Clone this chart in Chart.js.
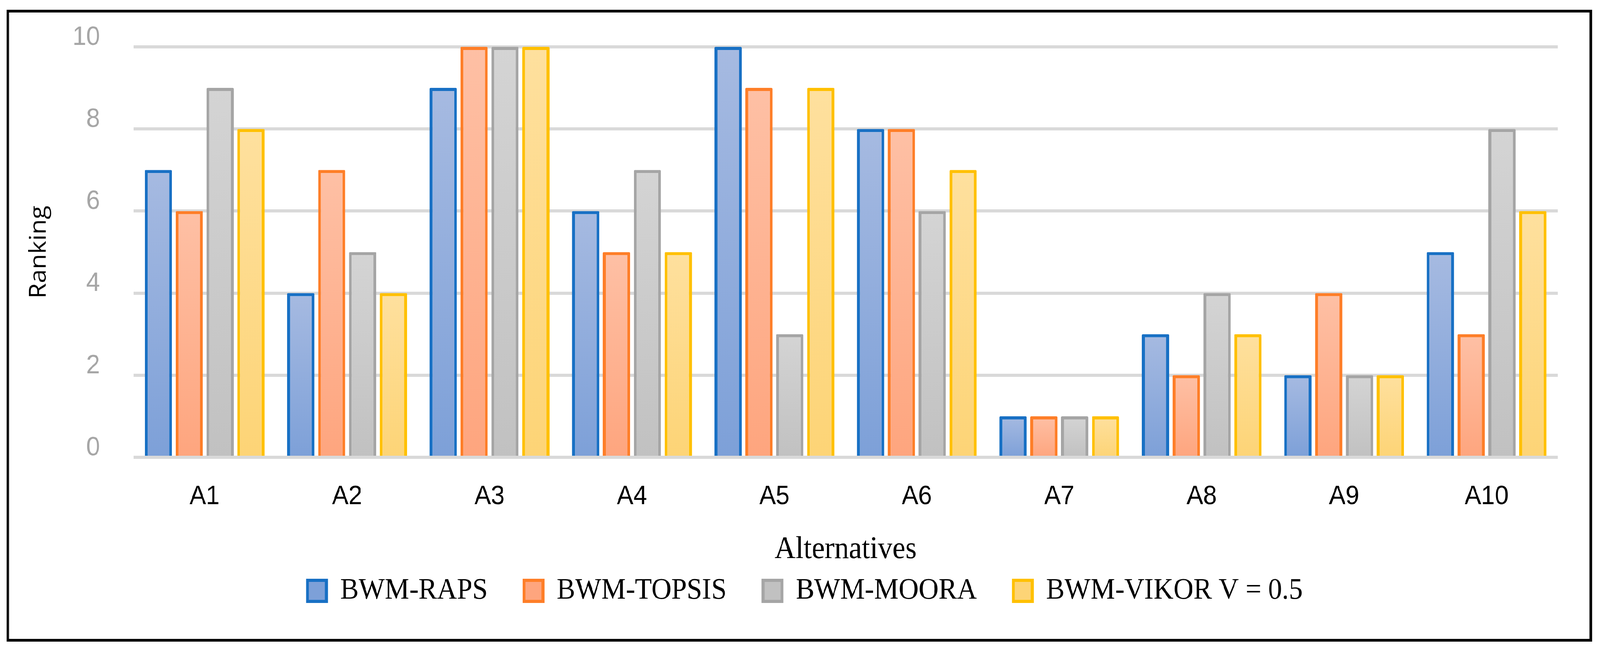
<!DOCTYPE html>
<html>
<head>
<meta charset="utf-8">
<title>Ranking of alternatives</title>
<script src="https://cdn.jsdelivr.net/npm/chart.js@4.4.1/dist/chart.umd.min.js"></script>
<style>
  html, body { margin: 0; padding: 0; background: #fff; overflow: hidden; }
  #wrap { position: relative; width: 4400px; height: 1667px; transform-origin: 0 0; }
  #frame {
    position: absolute; left: 18px; top: 25px; width: 4360px; height: 1618px;
    box-sizing: border-box; border: 7px solid #000; pointer-events: none;
  }
  canvas { position: absolute; left: 0; top: 0; }
</style>
</head>
<body>
<div id="wrap">
  <canvas id="chart" width="4400" height="1667"></canvas>
  <div id="frame"></div>
</div>
<script>
/* ── Data ─────────────────────────────────────────────────────────────── */
const alternatives = ['A1', 'A2', 'A3', 'A4', 'A5', 'A6', 'A7', 'A8', 'A9', 'A10'];
const seriesNames  = ['BWM-RAPS', 'BWM-TOPSIS', 'BWM-MOORA', 'BWM-VIKOR V = 0.5'];
const rapsRank     = [7, 4, 9, 6, 10, 8, 1, 3, 2, 5];
const topsisRank   = [6, 7, 10, 5, 9, 8, 1, 2, 4, 3];
const mooraRank    = [9, 5, 10, 7, 3, 6, 1, 4, 2, 8];
const vikorRank    = [8, 4, 10, 5, 9, 7, 1, 3, 2, 6];
const yTicks       = [0, 2, 4, 6, 8, 10];

/* ── Fit the 4400px wide drawing into the actual window ───────────────── */
const fitX = Math.min(1, window.innerWidth / 4400);
document.getElementById('wrap').style.transform = `scale(${fitX}, 1)`;

/* ── Styles ───────────────────────────────────────────────────────────── */
// border, gradient top, gradient bottom
const palette = [
  ['#1870C4', '#A6BAE1', '#7DA0D8'],
  ['#FE7E28', '#FEC0A5', '#FEA57E'],
  ['#A5A5A5', '#D4D4D4', '#C1C1C1'],
  ['#FFC000', '#FEE09E', '#FDD476'],
];

const SANS_NARROW = '"Liberation Sans Narrow", "Liberation Sans", Arial, sans-serif';
const SERIF = '"Liberation Serif", "Times New Roman", serif';

// each bar gets its own light-to-dark vertical gradient
function barFill(i) {
  const [, top, bottom] = palette[i];
  return (c) => {
    if (c.type !== 'data' || !c.chart.chartArea) return top;
    const y = c.chart.scales.y;
    const y0 = y.getPixelForValue(c.raw);
    const y1 = y.getPixelForValue(0);
    if (!isFinite(y0) || !isFinite(y1) || y0 === y1) return top;
    const g = c.chart.ctx.createLinearGradient(0, y0, 0, y1);
    g.addColorStop(0, top);
    g.addColorStop(1, bottom);
    return g;
  };
}

const values = [rapsRank, topsisRank, mooraRank, vikorRank];
const datasets = seriesNames.map((name, i) => ({
  label: name,
  data: values[i],
  backgroundColor: barFill(i),
  borderColor: palette[i][0],
  borderWidth: 8,
  borderRadius: 3,
  borderSkipped: 'start',
  categoryPercentage: 0.866,
  barPercentage: 0.885,
}));

/* ── Chart ────────────────────────────────────────────────────────────── */
new Chart(document.getElementById('chart').getContext('2d'), {
  type: 'bar',
  data: { labels: alternatives, datasets },
  options: {
    responsive: false,
    devicePixelRatio: 1,
    animation: false,
    layout: { padding: { left: 144, right: 116, top: 120, bottom: 106 } },
    plugins: {
      tooltip: { enabled: false },
      legend: {
        position: 'bottom',
        labels: {
          color: '#000',
          boxWidth: 52,
          boxHeight: 54,
          padding: 100,
          font: { family: SERIF, size: 76 },
        },
      },
    },
    scales: {
      x: {
        grid: { display: false, drawTicks: false },
        border: { display: false },
        ticks: { color: '#000', padding: 60, font: { family: SANS_NARROW, size: 68 } },
        title: {
          display: true,
          text: 'Alternatives',
          color: '#000',
          font: { family: SERIF, size: 80 },
          padding: { top: 0, bottom: -81 },
        },
        afterFit: (s) => { s.height = 204; },
      },
      y: {
        min: 0,
        max: 10,
        afterBuildTicks: (s) => { s.ticks = yTicks.map(v => ({ value: v })); },
        grid: { color: '#D9D9D9', lineWidth: 8, drawTicks: false },
        border: { display: false },
        ticks: {
          color: '#A6A6A6',
          padding: 92,
          labelOffset: -24,
          font: { family: SANS_NARROW, size: 68 },
        },
        title: {
          display: true,
          text: 'Ranking',
          color: '#000',
          font: { family: '"Open Sans", sans-serif', size: 64 },
          padding: { top: -75, bottom: 0 },
        },
        // fixed width, and no extra room reserved above the top label
        afterFit: (s) => { s.width = 223; s.paddingTop = 0; s.paddingBottom = 0; },
      },
    },
  },
});
</script>
</body>
</html>
